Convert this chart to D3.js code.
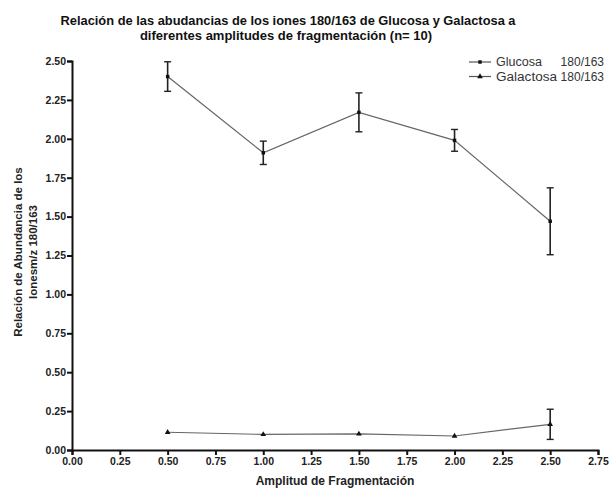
<!DOCTYPE html>
<html>
<head>
<meta charset="utf-8">
<script src="https://cdn.jsdelivr.net/npm/d3@7"></script>
<style>
  html, body { margin: 0; padding: 0; background: #fff; }
  svg { display: block; font-family: "Liberation Sans", Arial, sans-serif; }
</style>
</head>
<body>
<svg id="chart" width="612" height="488"></svg>
<script>
// Fragmentation amplitudes (x) and mean 180/163 ion ratios with their error (n = 10)
const amplitudes = [0.5, 1.0, 1.5, 2.0, 2.5];
const glucosaMean = [2.40, 1.91, 2.17, 1.99, 1.47];
const glucosaErr  = [0.095, 0.075, 0.125, 0.07, 0.215];
const galactosaMean = [0.114, 0.100, 0.103, 0.090, 0.165];
const galactosaErr  = [0.005, 0.004, 0.004, 0.004, 0.097];
const xTicks = [0, 0.25, 0.5, 0.75, 1.0, 1.25, 1.5, 1.75, 2.0, 2.25, 2.5, 2.75];
const yTicks = [0, 0.25, 0.5, 0.75, 1.0, 1.25, 1.5, 1.75, 2.0, 2.25, 2.5];
const seriesNames = ["Glucosa", "Galactosa"];
const ratioLabel = "180/163";

const svg = d3.select("#chart");
const margin = { left: 72, right: 14, top: 61, bottom: 38 };
const W = 612, H = 488;

const x = d3.scaleLinear().domain([0, 2.75]).range([margin.left, W - margin.right]);
const y = d3.scaleLinear().domain([0, 2.5]).range([H - margin.bottom, margin.top]);

// Title
const title = svg.append("text")
  .attr("x", 288).attr("y", 25)
  .attr("text-anchor", "middle")
  .attr("font-size", 13).attr("font-weight", "bold").attr("fill", "#111");
title.append("tspan").attr("x", 288).attr("dy", 0)
  .attr("textLength", 455).attr("lengthAdjust", "spacingAndGlyphs")
  .text("Relación de las abudancias de los iones 180/163 de Glucosa y Galactosa a");
title.append("tspan").attr("x", 286).attr("dy", 15)
  .text("diferentes amplitudes de fragmentación (n= 10)");

// Axes
const xAxis = d3.axisBottom(x).tickValues(xTicks).tickFormat(d3.format(".2f")).tickSize(5).tickPadding(3);
const yAxis = d3.axisLeft(y).tickValues(yTicks).tickFormat(d3.format(".2f")).tickSize(5).tickPadding(1);

const gx = svg.append("g").attr("transform", `translate(0,${y(0)})`).call(xAxis);
const gy = svg.append("g").attr("transform", `translate(${x(0)},0)`).call(yAxis);
[gx, gy].forEach(g => {
  g.select(".domain").attr("stroke", "#111").attr("stroke-width", 2);
  g.selectAll(".tick line").attr("stroke", "#111").attr("stroke-width", 2);
  g.selectAll(".tick text")
    .attr("font-size", 10.5).attr("font-weight", "bold").attr("fill", "#222")
    .attr("font-family", "'Liberation Sans', Arial, sans-serif");
});

// Axis titles
svg.append("text")
  .attr("x", 335).attr("y", 485)
  .attr("text-anchor", "middle")
  .attr("font-size", 12).attr("font-weight", "bold").attr("fill", "#222")
  .text("Amplitud de Fragmentación");

const yt = svg.append("text")
  .attr("transform", "translate(22,252) rotate(-90)")
  .attr("text-anchor", "middle")
  .attr("font-size", 11.5).attr("font-weight", "bold").attr("fill", "#222");
yt.append("tspan").attr("x", 0).attr("dy", 0).text("Relación de Abundancia de los");
yt.append("tspan").attr("x", 0).attr("dy", 15).text("Ionesm/z 180/163");

// Series
const series = [
  { name: seriesNames[0], mean: glucosaMean, err: glucosaErr, symbol: d3.symbolSquare, size: 12, nameLen: 46 },
  { name: seriesNames[1], mean: galactosaMean, err: galactosaErr, symbol: d3.symbolTriangle, size: 14, nameLen: 61 }
];

const line = d3.line().x(d => x(d.x)).y(d => y(d.v));

series.forEach(s => {
  const pts = amplitudes.map((a, i) => ({ x: a, v: s.mean[i], e: s.err[i] }));
  const g = svg.append("g");
  g.append("path").datum(pts)
    .attr("d", line).attr("fill", "none")
    .attr("stroke", "#666").attr("stroke-width", 1.2);

  // error bars with caps
  const eb = g.selectAll(".eb").data(pts).enter().append("g");
  eb.append("line")
    .attr("x1", d => x(d.x)).attr("x2", d => x(d.x))
    .attr("y1", d => y(d.v + d.e)).attr("y2", d => y(d.v - d.e))
    .attr("stroke", "#222").attr("stroke-width", 1.6);
  eb.filter(d => y(d.v - d.e) - y(d.v + d.e) > 4).each(function(d) {
    const sel = d3.select(this);
    [d.v + d.e, d.v - d.e].forEach(v => {
      sel.append("line")
        .attr("x1", x(d.x) - 3.5).attr("x2", x(d.x) + 3.5)
        .attr("y1", y(v)).attr("y2", y(v))
        .attr("stroke", "#222").attr("stroke-width", 1.4);
    });
  });

  g.selectAll(".pt").data(pts).enter().append("path")
    .attr("transform", d => `translate(${x(d.x)},${y(d.v)})`)
    .attr("d", d3.symbol().type(s.symbol).size(s.size))
    .attr("fill", "#111");
});

// Legend
const legend = svg.append("g");
series.forEach((s, i) => {
  const ly = 62 + i * 14.5;
  legend.append("line")
    .attr("x1", 469).attr("x2", 491).attr("y1", ly).attr("y2", ly)
    .attr("stroke", "#555").attr("stroke-width", 1.2);
  legend.append("path")
    .attr("transform", `translate(480,${ly})`)
    .attr("d", d3.symbol().type(s.symbol).size(s.size))
    .attr("fill", "#111");
  legend.append("text")
    .attr("x", 496).attr("y", ly + 4.3)
    .attr("font-size", 12).attr("fill", "#333")
    .attr("textLength", s.nameLen).attr("lengthAdjust", "spacingAndGlyphs")
    .text(s.name);
  legend.append("text")
    .attr("x", 604).attr("y", ly + 4.3)
    .attr("text-anchor", "end")
    .attr("font-size", 12).attr("fill", "#333")
    .text(ratioLabel);
});
</script>
</body>
</html>
